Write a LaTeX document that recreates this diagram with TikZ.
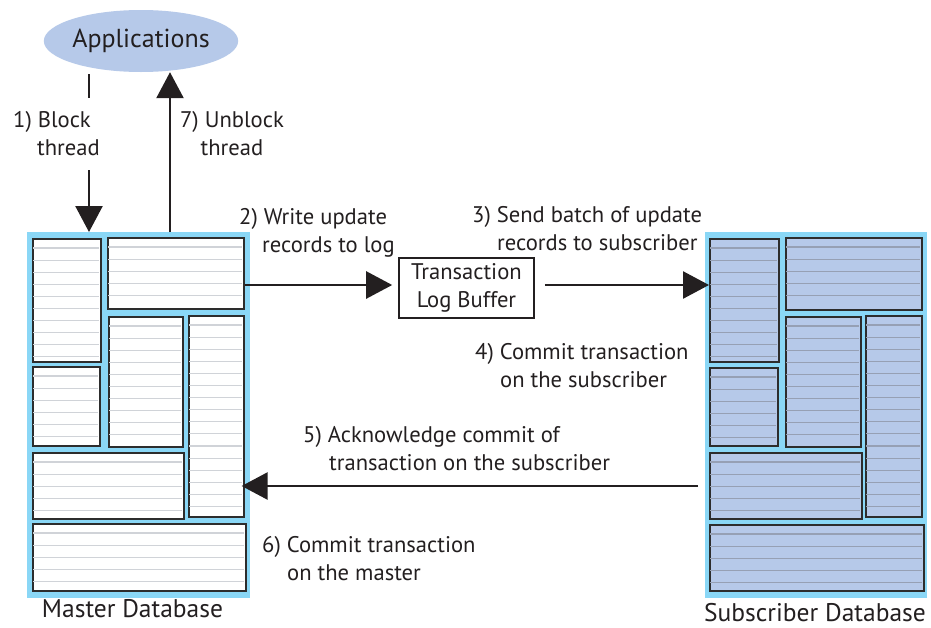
\documentclass[tikz,border=0pt]{standalone}
\usepackage{fontspec}
\setmainfont{PT Sans}
\usetikzlibrary{arrows.meta,shapes.geometric,calc}
\definecolor{frameblue}{RGB}{138,215,246}
\definecolor{subfill}{RGB}{182,201,233}
\definecolor{mline}{RGB}{208,211,216}
\definecolor{sline}{RGB}{150,160,180}
\definecolor{edgec}{RGB}{45,45,45}
\definecolor{ink}{RGB}{35,31,32}
\newcommand\labelfont{\fontsize{22.6}{28}\selectfont}
\newcommand\dbfont{\fontsize{25.5}{28}\selectfont}
\newcommand\appfont{\fontsize{26}{32}\selectfont}
\tikzset{
  cell/.style={rectangle, draw=edgec, line width=1.6, inner sep=0},
  frame/.style={rectangle, fill=frameblue, inner sep=0, anchor=north west},
  arr/.style={draw=ink, line width=2.5, -{Triangle[length=26pt,width=27pt]}},
  plainline/.style={draw=ink, line width=2.5},
  lbl/.style={font=\labelfont, inner sep=0, text=ink},
}
% name x1 y1 x2 y2 fill linecolor
\newcommand\cellbox[7]{%
  \node[cell, fill=#6, anchor=north west, minimum width={#4-#2}, minimum height={#5-#3}] (#1) at (#2,#3) {};
  \pgfmathtruncatemacro\ncell{floor((#5-#3-13)/12.1)}%
  \foreach \k in {0,...,\ncell} {
    \draw[#7, line width=1.1] (#2+1.2,{#3+10+12.1*\k}) -- (#4-1.2,{#3+10+12.1*\k});
  }
}
\begin{document}
\begin{tikzpicture}[x=1pt,y=-1pt]
\fill[white] (0,0) rectangle (931,627);
\useasboundingbox (0,0) rectangle (931,627);

% frames
\node[frame, minimum width=223, minimum height=366] (master) at (27,232) {};
\node[frame, minimum width=222, minimum height=366] (sub) at (705,232) {};

% master cells
\cellbox{m1}{32}{238}{100}{361}{white}{mline}
\cellbox{mB}{107}{237}{243}{308}{white}{mline}
\cellbox{m3}{32}{366}{99}{445}{white}{mline}
\cellbox{m4}{108}{316}{182}{446}{white}{mline}
\cellbox{mE}{188}{315}{243}{516}{white}{mline}
\cellbox{m6}{32}{452}{183}{518}{white}{mline}
\cellbox{m7}{32}{523}{245}{590}{white}{mline}

% subscriber cells
\cellbox{s1}{709}{238}{778}{361}{subfill}{sline}
\cellbox{s2}{785}{237}{921}{309}{subfill}{sline}
\cellbox{s3}{709}{367}{777}{445}{subfill}{sline}
\cellbox{s4}{785}{316}{860}{446}{subfill}{sline}
\cellbox{s5}{865}{315}{921}{516}{subfill}{sline}
\cellbox{s6}{709}{452}{861}{518}{subfill}{sline}
\cellbox{s7}{709}{524}{923}{590}{subfill}{sline}

% applications
\node[ellipse, fill=subfill, minimum width=180, minimum height=62, inner sep=0, font=\appfont, text=ink] (app) at (141,41) {Applications};

% transaction log buffer
\node[draw=ink, line width=1.6, minimum width=135, minimum height=60, inner sep=0, align=center, font=\labelfont, text=ink] (trans) at (466.5,288) {Transaction\\Log Buffer};

% labels
\node[lbl, anchor=west, align=left] (t1) at (13,134) {1) Block\\\hspace*{24pt}thread};
\node[lbl, align=center] (t7) at (232,134) {7) Unblock\\thread};
\node[lbl, anchor=west, align=left] (t2) at (239,233) {2) Write update\\\hspace*{23pt}records to log};
\node[lbl, anchor=west, align=left] (t3) at (472,229) {3) Send batch of update\\\hspace*{25pt}records to subscriber};
\node[lbl, anchor=west, align=left] (t4) at (475,366) {4) Commit transaction\\\hspace*{25pt}on the subscriber};
\node[lbl, anchor=west, align=left] (t5) at (303,449) {5) Acknowledge commit of\\\hspace*{26pt}transaction on the subscriber};
\node[lbl, anchor=west, align=left] (t6) at (262,559) {6) Commit transaction\\\hspace*{25pt}on the master};

\node[font=\dbfont, inner sep=0, text=ink] (mlab) at (132.5,609) {Master Database};
\node[font=\dbfont, inner sep=0, text=ink] (slab) at (815,612.5) {Subscriber Database};

% connectors
\coordinate (b1) at (89,98);
\coordinate (b2) at (89,170);
\coordinate (c7) at (170,0);
\coordinate (y5) at (0,486);
\draw[plainline, shorten <=2pt] (app.south -| b1) -- (b1);
\draw[arr] (b2) -- (master.north -| b2);
\draw[arr] (master.north -| c7) -- (app.south -| c7);
\draw[arr, shorten >=6pt] ($(mB.east |- trans.west)+(0,-3)$) -- ($(trans.west)+(0,-3)$);
\draw[arr, shorten <=10pt] ($(trans.east)+(0,-3)$) -- ($(s1.west |- trans.east)+(0,-3)$);
\draw[arr, shorten <=7pt, shorten >=-3pt] (sub.west |- y5) -- (mE.east |- y5);
\end{tikzpicture}
\end{document}
